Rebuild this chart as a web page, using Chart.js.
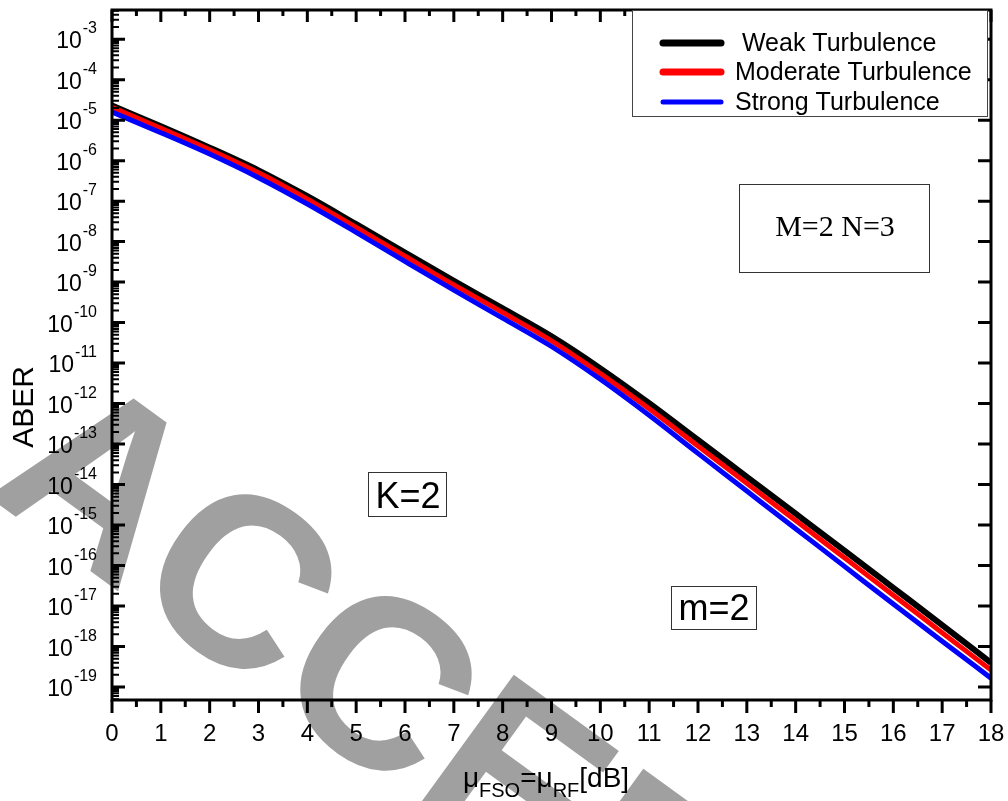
<!DOCTYPE html>
<html>
<head>
<meta charset="utf-8">
<script src="https://cdn.jsdelivr.net/npm/chart.js@4.4.0/dist/chart.umd.min.js"></script>
<style>
  html, body { margin: 0; padding: 0; background: #fff; }
  #wrap { width: 1008px; height: 801px; }
</style>
</head>
<body>
<div id="wrap"><canvas id="aber"></canvas></div>
<script>
// mu_FSO = mu_RF in dB
const snr = [0, 1, 2, 3, 4, 5, 6, 7, 8, 9, 10, 11, 12, 13, 14, 15, 16, 17, 18];

// ABER
const weak = [2.29e-5, 7.08e-6, 2.09e-6, 5.75e-7, 1.32e-7, 2.69e-8, 5.37e-9, 1.07e-9, 2.24e-10, 4.57e-11,
              7.41e-12, 1.02e-12, 1.26e-13, 1.55e-14, 1.91e-15, 2.34e-16, 2.82e-17, 3.39e-18, 3.98e-19];
const moderate = [2.09e-5, 6.31e-6, 1.86e-6, 5.01e-7, 1.12e-7, 2.24e-8, 4.37e-9, 8.51e-10, 1.78e-10, 3.55e-11,
                  5.50e-12, 7.41e-13, 8.91e-14, 1.07e-14, 1.29e-15, 1.55e-16, 1.86e-17, 2.19e-18, 2.63e-19];
const strong = [1.58e-5, 4.90e-6, 1.45e-6, 3.80e-7, 8.51e-8, 1.70e-8, 3.24e-9, 6.31e-10, 1.29e-10, 2.57e-11,
                3.98e-12, 5.13e-13, 5.89e-14, 6.92e-15, 8.13e-16, 9.55e-17, 1.12e-17, 1.35e-18, 1.66e-19];

const seriesNames = [' Weak Turbulence', 'Moderate Turbulence', 'Strong Turbulence'];
const seriesColors = ['#000000', '#ff0000', '#0000ff'];

const xTicks = [0, 1, 2, 3, 4, 5, 6, 7, 8, 9, 10, 11, 12, 13, 14, 15, 16, 17, 18];
const yDecades = [-19, -18, -17, -16, -15, -14, -13, -12, -11, -10, -9, -8, -7, -6, -5, -4, -3];

const SANS = '"Liberation Sans", Arial, sans-serif';
const SERIF = '"Liberation Serif", "Times New Roman", serif';

function boxText(ctx, text, font, cx, y, box) {
    ctx.font = font;
    ctx.fillStyle = '#000';
    ctx.textAlign = 'center';
    ctx.textBaseline = 'alphabetic';
    ctx.fillText(text, cx, y);
    ctx.strokeStyle = '#333';
    ctx.lineWidth = 1;
    ctx.strokeRect(box[0] + 0.5, box[1] + 0.5, box[2], box[3]);
}

const decor = {
    id: 'decor',
    beforeDatasetsDraw(chart) {
        // grey watermark behind everything
        const ctx = chart.ctx;
        ctx.save();
        ctx.translate(-17, 493);
        ctx.rotate(36 * Math.PI / 180);
        ctx.font = 'bold 240px ' + SANS;
        ctx.fillStyle = '#a0a0a0';
        ctx.textBaseline = 'alphabetic';
        ctx.fillText('ACCEPTED MANUSCRIPT', 0, 0);
        ctx.restore();
    },
    afterDatasetsDraw(chart) {
        const ctx = chart.ctx;
        const a = chart.chartArea;
        const xs = chart.scales.x, ys = chart.scales.y;
        ctx.save();
        ctx.strokeStyle = '#000';
        ctx.fillStyle = '#000';
        ctx.lineWidth = 3;
        ctx.lineCap = 'butt';

        // ticks
        ctx.beginPath();
        for (let v = 0; v <= 18; v += 0.5) {
            const px = xs.getPixelForValue(v);
            const major = Number.isInteger(v);
            ctx.moveTo(px, a.bottom);
            ctx.lineTo(px, a.bottom + (major ? 13 : 7));
            ctx.moveTo(px, a.top);
            ctx.lineTo(px, a.top + (major ? 12 : 6));
        }
        yDecades.forEach(d => {
            const py = ys.getPixelForValue(Math.pow(10, d));
            ctx.moveTo(a.left, py);
            ctx.lineTo(a.left + 13, py);
            ctx.moveTo(a.right, py);
            ctx.lineTo(a.right - 13, py);
        });
        ctx.stroke();
        ctx.lineWidth = 2;
        ctx.beginPath();
        for (let d = -20; d <= -3; d++) {
            for (let k = 2; k <= 9; k++) {
                const val = k * Math.pow(10, d);
                if (val < ys.min || val > ys.max) continue;
                const py = ys.getPixelForValue(val);
                ctx.moveTo(a.left, py);
                ctx.lineTo(a.left + 7, py);
            }
        }
        ctx.stroke();

        // frame
        ctx.lineWidth = 3;
        ctx.strokeRect(a.left, a.top, a.right - a.left, a.bottom - a.top);

        // x tick labels
        ctx.font = '24px ' + SANS;
        ctx.textAlign = 'center';
        ctx.textBaseline = 'alphabetic';
        xTicks.forEach(v => ctx.fillText(String(v), xs.getPixelForValue(v), 741));

        // y tick labels 10^n
        ctx.textAlign = 'left';
        yDecades.forEach(d => {
            const py = ys.getPixelForValue(Math.pow(10, d));
            ctx.font = '23px ' + SANS;
            const wb = ctx.measureText('10').width;
            ctx.font = '16px ' + SANS;
            const sup = String(d);
            const ws = ctx.measureText(sup).width;
            const x0 = 97 - ws - wb - 1;
            ctx.font = '23px ' + SANS;
            ctx.fillText('10', x0, py + 9);
            ctx.font = '16px ' + SANS;
            ctx.fillText(sup, x0 + wb + 1, py - 6);
        });

        // axis titles
        ctx.save();
        ctx.translate(33, 407);
        ctx.rotate(-Math.PI / 2);
        ctx.font = '30px ' + SANS;
        ctx.textAlign = 'center';
        ctx.fillText('ABER', 0, 0);
        ctx.restore();

        const parts = [['\u03bc', 28, 0], ['FSO', 20, 10], ['=', 28, 0], ['\u03bc', 28, 0], ['RF', 20, 10], ['[dB]', 28, 0]];
        let tw = 0;
        parts.forEach(p => { ctx.font = p[1] + 'px ' + SANS; tw += ctx.measureText(p[0]).width; });
        let tx = 546 - tw / 2;
        ctx.textAlign = 'left';
        parts.forEach(p => {
            ctx.font = p[1] + 'px ' + SANS;
            ctx.fillText(p[0], tx, 787 + p[2]);
            tx += ctx.measureText(p[0]).width;
        });

        // legend
        ctx.fillStyle = '#fff';
        ctx.fillRect(632, 10, 355, 106);
        ctx.strokeStyle = '#444';
        ctx.lineWidth = 1;
        ctx.strokeRect(632.5, 10.5, 355, 106);
        const rows = [43, 72, 102];
        ctx.lineCap = 'round';
        seriesNames.forEach((name, i) => {
            ctx.strokeStyle = seriesColors[i];
            ctx.lineWidth = i === 2 ? 5 : 7;
            ctx.beginPath();
            ctx.moveTo(663, rows[i]);
            ctx.lineTo(721, rows[i]);
            ctx.stroke();
            ctx.fillStyle = '#000';
            ctx.font = '25px ' + SANS;
            ctx.fillText(name, 735, rows[i] + 8);
        });

        // annotations
        boxText(ctx, 'M=2 N=3', '30px ' + SERIF, 835, 236, [739, 184, 190, 88]);
        boxText(ctx, 'K=2', '36px ' + SANS, 408, 508, [368, 472, 78, 44]);
        boxText(ctx, 'm=2', '36px ' + SANS, 714, 620, [671, 586, 85, 43]);
        ctx.restore();
    }
};

const ctx = document.getElementById('aber').getContext('2d');
const aberChart = new Chart(ctx, {
    type: 'line',
    data: {
        labels: snr,
        datasets: [
            { label: seriesNames[0], data: weak, borderColor: seriesColors[0], borderWidth: 6, order: 2 },
            { label: seriesNames[1], data: moderate, borderColor: seriesColors[1], borderWidth: 5, order: 1 },
            { label: seriesNames[2], data: strong, borderColor: seriesColors[2], borderWidth: 5, order: 0 }
        ]
    },
    options: {
        responsive: true,
        maintainAspectRatio: false,
        animation: false,
        layout: { padding: { left: 112, right: 17, top: 10, bottom: 101 } },
        elements: {
            point: { radius: 0 },
            line: { cubicInterpolationMode: 'monotone', fill: false }
        },
        scales: {
            x: { type: 'linear', min: 0, max: 18, display: false },
            y: { type: 'logarithmic', min: Math.pow(10, -19.32), max: Math.pow(10, -2.28), display: false }
        },
        plugins: {
            legend: { display: false },
            tooltip: { enabled: false }
        }
    },
    plugins: [decor]
});
</script>
</body>
</html>
